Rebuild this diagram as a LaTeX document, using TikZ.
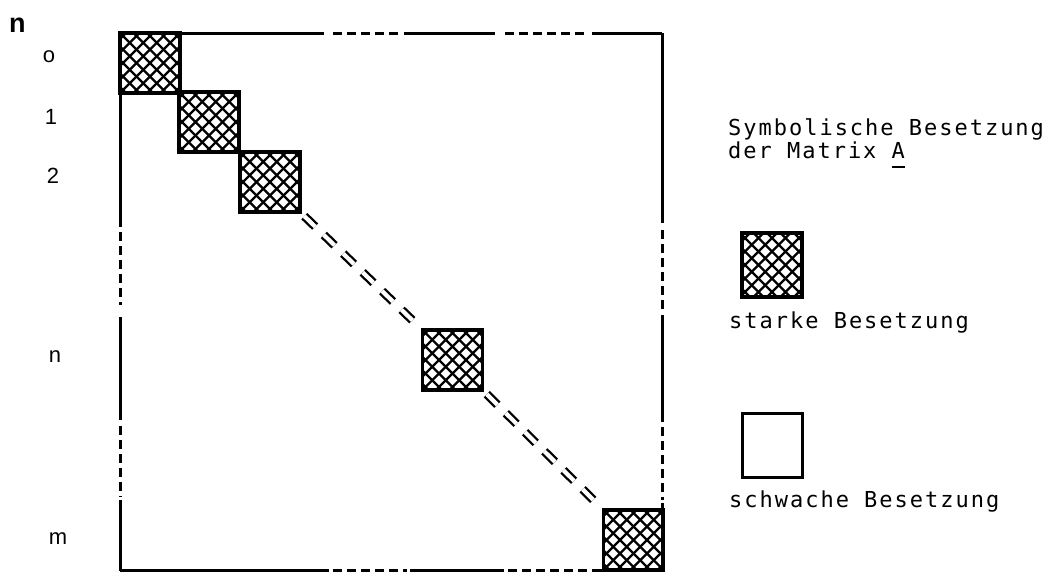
\documentclass[tikz,border=0pt]{standalone}
\usepackage{fontspec}
\setmainfont{Liberation Sans}
\newfontfamily\monofont[LetterSpace=9]{DejaVu Sans Mono}
\usetikzlibrary{calc}
\tikzset{
  frameline/.style={line width=3pt},
  framedash/.style={line width=3pt, dash pattern=on 9pt off 5pt},
  hatchline/.style={line width=2.2pt},
  hbox/.style={draw, line width=3.4pt, minimum width=60pt, minimum height=60pt,
    inner sep=0pt, outer sep=0pt,
    path picture={
      \foreach \k in {-6,...,6}{
        \draw[hatchline] ([xshift=\k*13.5pt]path picture bounding box.center) ++(-50pt,-50pt) -- ++(100pt,100pt);
        \draw[hatchline] ([xshift=\k*13.5pt]path picture bounding box.center) ++(-50pt,50pt) -- ++(100pt,-100pt);
      }}},
  ebox/.style={draw, line width=3pt, minimum width=60pt, minimum height=64pt,
    inner sep=0pt, outer sep=0pt},
  dbl/.style={double, double distance=4.2pt, line width=2.3pt,
    dash pattern=on 15pt off 12pt, shorten <=6pt, shorten >=6pt},
  rowlab/.style={font=\fontsize{22}{26}\selectfont, inner sep=0pt},
  legtext/.style={font=\monofont\fontsize{22}{24}\selectfont, inner sep=0pt, anchor=base west, align=left}
}
\begin{document}
\begin{tikzpicture}[x=1pt,y=-1pt]
\useasboundingbox (0,0) rectangle (1052,571);
% frame top
\draw[frameline] (120,33) -- (324,33);
\draw[framedash] (333,33) -- (398,33);
\draw[frameline] (404,33) -- (495,33);
\draw[framedash] (505,33) -- (588,33);
\draw[frameline] (592,33) -- (662,33);
% frame left
\draw[frameline] (120,33) -- (120,227);
\draw[framedash] (120,232) -- (120,305);
\draw[frameline] (120,317) -- (120,420);
\draw[framedash] (120,426) -- (120,497);
\draw[frameline] (120,500) -- (120,571);
% frame right
\draw[frameline] (662,33) -- (662,223);
\draw[framedash] (662,230) -- (662,310);
\draw[frameline] (662,315) -- (662,422);
\draw[framedash] (662,427) -- (662,500);
\draw[frameline] (662,503) -- (662,571);
% frame bottom
\draw[frameline] (120,570) -- (329,570);
\draw[framedash] (333,570) -- (407,570);
\draw[frameline] (410,570) -- (504,570);
\draw[framedash] (508,570) -- (600,570);
\draw[frameline] (600,570) -- (662,570);
% boxes
\node[hbox] (b0) at (150,63) {};
\node[hbox] (b1) at (209,122) {};
\node[hbox] (b2) at (270,182) {};
\node[hbox] (bn) at (452.5,360) {};
\node[hbox] (bm) at (633.5,540) {};
\draw[dbl] (b2.south east) -- (bn.north west);
\draw[dbl] (bn.south east) -- (bm.north west);
% row labels
\node[font=\bfseries\fontsize{27}{30}\selectfont, inner sep=0pt, anchor=base west] (ntop) at (9,32) {n};
\node[rowlab] (l0) at (49,57) {o};
\node[rowlab, anchor=base] (l1) at (51,124) {1};
\node[rowlab, anchor=base] (l2) at (53,183) {2};
\node[rowlab] (ln) at (55,357) {n};
\node[rowlab] (lm) at (58,539) {m};
% legend
\node[legtext] (t1) at (728,135) {Symbolische Besetzung};
\node[legtext] (t2) at (728,158) {der Matrix \rlap{\rule[-10pt]{13pt}{2.2pt}}A};
\node[hbox, minimum height=64pt] (lh) at (772,265) {};
\node[legtext] (t3) at (729,328) {starke Besetzung};
\node[ebox] (le) at (772,445) {};
\node[legtext] (t4) at (729,507) {schwache Besetzung};
\end{tikzpicture}
\end{document}
